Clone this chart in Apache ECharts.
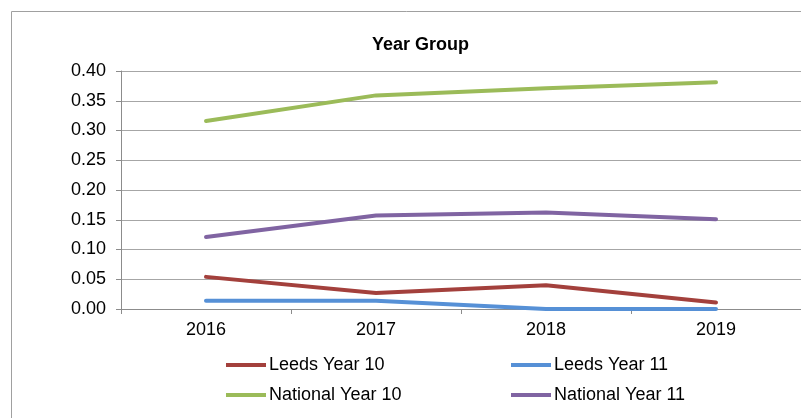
<!DOCTYPE html>
<html><head><meta charset="utf-8">
<script src="https://cdn.jsdelivr.net/npm/echarts@6/dist/echarts.min.js"></script>
<style>html,body{margin:0;padding:0;background:#fff}#c{width:801px;height:418px}</style>
</head><body><div id="c"></div>
<script>
const categories = ['2016', '2017', '2018', '2019'];
const leedsYear10 = [0.054, 0.027, 0.040, 0.011];
const leedsYear11 = [0.014, 0.014, 0.000, 0.000];
const nationalYear10 = [0.316, 0.359, 0.371, 0.381];
const nationalYear11 = [0.121, 0.157, 0.162, 0.151];
const yTicks = { min: 0, max: 0.4, interval: 0.05 };

const font = 'Liberation Sans, Arial, sans-serif';
const chart = echarts.init(document.getElementById('c'));
const mk = (name, data, color) => ({
  name, type: 'line', data, symbol: 'none', smooth: false,
  lineStyle: { width: 4, color, cap: 'round', join: 'round' },
  itemStyle: { color }
});
const legendBase = {
  orient: 'vertical', top: 351, itemWidth: 40, itemHeight: 4, itemGap: 12, icon: 'rect',
  textStyle: { fontFamily: font, fontSize: 18, color: '#000', padding: [0, 0, 0, -2], lineHeight: 18 }
};
chart.setOption({
  animation: false,
  graphic: [{ type: 'rect', shape: { x: 11.5, y: 11.5, width: 1000, height: 1000 },
    style: { fill: 'none', stroke: '#a0a0a0', lineWidth: 1 }, silent: true }],
  title: { text: 'Year Group', left: 367, top: 31,
    textStyle: { fontFamily: font, fontSize: 18, fontWeight: 'bold', color: '#000' } },
  grid: { left: 121, top: 71, right: 0, bottom: 109, containLabel: false },
  legend: [
    Object.assign({}, legendBase, { data: ['Leeds Year 10', 'National Year 10'], left: 221 }),
    Object.assign({}, legendBase, { data: ['Leeds Year 11', 'National Year 11'], left: 506 })
  ],
  xAxis: { type: 'category', data: categories, boundaryGap: true,
    axisLine: { lineStyle: { color: '#8c8c8c', width: 1 } },
    axisTick: { show: true, length: 5, lineStyle: { color: '#8c8c8c' } },
    axisLabel: { fontFamily: font, fontSize: 18, color: '#000', margin: 12 } },
  yAxis: { type: 'value', min: yTicks.min, max: yTicks.max, interval: yTicks.interval,
    axisLine: { show: true, lineStyle: { color: '#8c8c8c', width: 1 } },
    axisTick: { show: true, length: 5, lineStyle: { color: '#8c8c8c' } },
    splitLine: { lineStyle: { color: '#a6a6a6', width: 1 } },
    axisLabel: { fontFamily: font, fontSize: 18, color: '#000', margin: 15,
      formatter: v => v.toFixed(2) } },
  series: [
    mk('Leeds Year 10', leedsYear10, '#A3403C'),
    mk('Leeds Year 11', leedsYear11, '#5690D6'),
    mk('National Year 10', nationalYear10, '#9BBB59'),
    mk('National Year 11', nationalYear11, '#8064A2')
  ]
});
</script></body></html>
